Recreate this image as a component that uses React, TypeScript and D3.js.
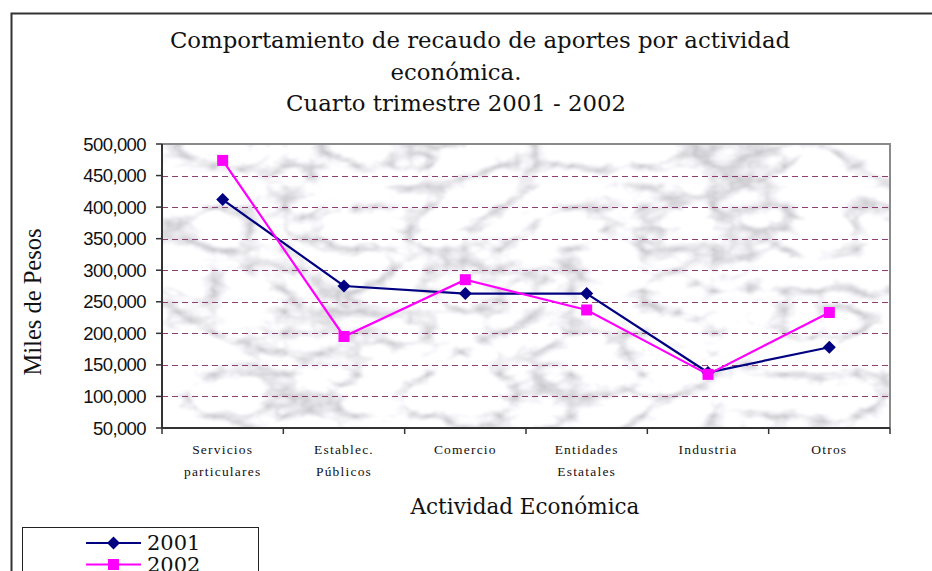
import React from "react";
import * as d3 from "d3";

// chart data
const categories = [
  "Servicios\nparticulares",
  "Establec.\nPúblicos",
  "Comercio",
  "Entidades\nEstatales",
  "Industria",
  "Otros",
];
const values2001 = [412000, 275000, 263000, 263000, 138000, 178000];
const values2002 = [474000, 195000, 285000, 237000, 135000, 233000];
const seriesNames = ["2001", "2002"];
const yTicks = [50000, 100000, 150000, 200000, 250000, 300000, 350000, 400000, 450000, 500000];
const titleLines = [
  "Comportamiento de recaudo de aportes por actividad",
  "económica.",
  "Cuarto trimestre 2001 - 2002",
];

const W = 932;
const H = 571;
const plot = { left: 162, right: 890, top: 144, bottom: 428 };
const colors = ["#000080", "#ff00ff"];

export default function App() {
  const x = d3
    .scaleBand<number>()
    .domain(d3.range(categories.length))
    .range([plot.left, plot.right]);
  const y = d3.scaleLinear().domain([50000, 500000]).range([plot.bottom, plot.top]);

  const line = d3
    .line<number>()
    .x((_, i) => x(i)! + x.bandwidth() / 2)
    .y((d) => y(d));

  const fmt = d3.format(",");
  const series = [values2001, values2002];

  const marker = (k: number, cx: number, cy: number, key?: string) =>
    k === 0 ? (
      <path
        key={key}
        d={`M${cx},${cy - 6.5}L${cx + 6.5},${cy}L${cx},${cy + 6.5}L${cx - 6.5},${cy}Z`}
        fill={colors[0]}
      />
    ) : (
      <rect key={key} x={cx - 5.5} y={cy - 5.5} width={11} height={11} fill={colors[1]} />
    );

  return (
    <svg
      width={W}
      height={H}
      style={{ position: "absolute", left: 0, top: 0, background: "#fff" }}
    >
      <defs>
        {/* marble-like texture for the plot area */}
        <filter id="marble" x="0" y="0" width="100%" height="100%">
          <feTurbulence type="turbulence" baseFrequency="0.014 0.024" numOctaves={5} seed={11} result="t" />
          <feColorMatrix
            in="t"
            type="matrix"
            values="1.5 0 0 0 0.52  1.5 0 0 0 0.52  1.5 0 0 0 0.55  0 0 0 0 1"
          />
          <feGaussianBlur stdDeviation={1.3} />
        </filter>
      </defs>

      {/* outer frame */}
      <path d={`M11.5,${H + 2}V13.5H${W + 2}`} fill="none" stroke="#333" strokeWidth={2} />

      {/* title */}
      <g fontFamily="DejaVu Serif" fill="#111" textAnchor="middle" fontSize={22.8}>
        {titleLines.map((t, i) => (
          <text key={i} x={i === 0 ? 480 : 456} y={48 + i * 31.5}>
            {t}
          </text>
        ))}
      </g>

      {/* plot background */}
      <rect
        x={plot.left}
        y={plot.top}
        width={plot.right - plot.left}
        height={plot.bottom - plot.top}
        filter="url(#marble)"
      />

      {/* gridlines */}
      {yTicks
        .filter((t) => t > 50000 && t < 500000)
        .map((t) => (
          <line
            key={t}
            x1={plot.left}
            x2={plot.right}
            y1={Math.round(y(t)) + 0.5}
            y2={Math.round(y(t)) + 0.5}
            stroke="#8e3f72"
            strokeWidth={1.2}
            strokeDasharray="6,4"
          />
        ))}

      {/* frame of plot area */}
      <path
        d={`M${plot.left},${plot.top}H${plot.right}V${plot.bottom}`}
        fill="none"
        stroke="#8a8a8a"
        strokeWidth={2}
      />
      <path
        d={`M${plot.left},${plot.top}V${plot.bottom}H${plot.right}`}
        fill="none"
        stroke="#333"
        strokeWidth={2}
      />

      {/* y ticks */}
      <g fontFamily="Liberation Sans" fontSize={18.5} fill="#111" textAnchor="end" letterSpacing={-0.6}>
        {yTicks.map((t) => (
          <g key={t}>
            <line x1={plot.left - 6} x2={plot.left} y1={y(t)} y2={y(t)} stroke="#333" strokeWidth={1.5} />
            <text x={plot.left - 16} y={y(t) + 6.5}>
              {fmt(t)}
            </text>
          </g>
        ))}
      </g>

      {/* x ticks and labels */}
      {d3.range(categories.length + 1).map((i) => {
        const xx = i < categories.length ? x(i)! : plot.right;
        return (
          <line key={i} x1={xx} x2={xx} y1={plot.bottom} y2={plot.bottom + 6} stroke="#333" strokeWidth={1.5} />
        );
      })}
      <g fontFamily="Liberation Serif" fontSize={13.5} fill="#111" textAnchor="middle" letterSpacing={1.2}>
        {categories.map((c, i) => (
          <text key={i} x={x(i)! + x.bandwidth() / 2} y={454}>
            {c.split("\n").map((s, j) => (
              <tspan key={j} x={x(i)! + x.bandwidth() / 2} dy={j === 0 ? 0 : 22}>
                {s}
              </tspan>
            ))}
          </text>
        ))}
      </g>

      {/* axis titles */}
      <text x={525} y={514} fontFamily="DejaVu Serif" fontSize={21.5} textAnchor="middle" fill="#111">
        Actividad Económica
      </text>
      <text
        transform="translate(41,302) rotate(-90)"
        fontFamily="Liberation Serif"
        fontSize={24.5}
        textAnchor="middle"
        fill="#111"
      >
        Miles de Pesos
      </text>

      {/* series */}
      {series.map((vals, k) => (
        <g key={k}>
          <path d={line(vals)!} fill="none" stroke={colors[k]} strokeWidth={2.2} />
          {vals.map((v, i) => marker(k, x(i)! + x.bandwidth() / 2, y(v), `${k}-${i}`))}
        </g>
      ))}

      {/* legend */}
      <rect x={22.5} y={527.5} width={236} height={60} fill="#fff" stroke="#222" strokeWidth={1} />
      {seriesNames.map((n, k) => {
        const ly = 543 + k * 21.5;
        return (
          <g key={n}>
            <line x1={86} x2={141} y1={ly} y2={ly} stroke={colors[k]} strokeWidth={2} />
            {marker(k, 113.5, ly)}
            <text x={147} y={550 + k * 22} fontFamily="DejaVu Serif" fontSize={21} fill="#111">
              {n}
            </text>
          </g>
        );
      })}
    </svg>
  );
}
